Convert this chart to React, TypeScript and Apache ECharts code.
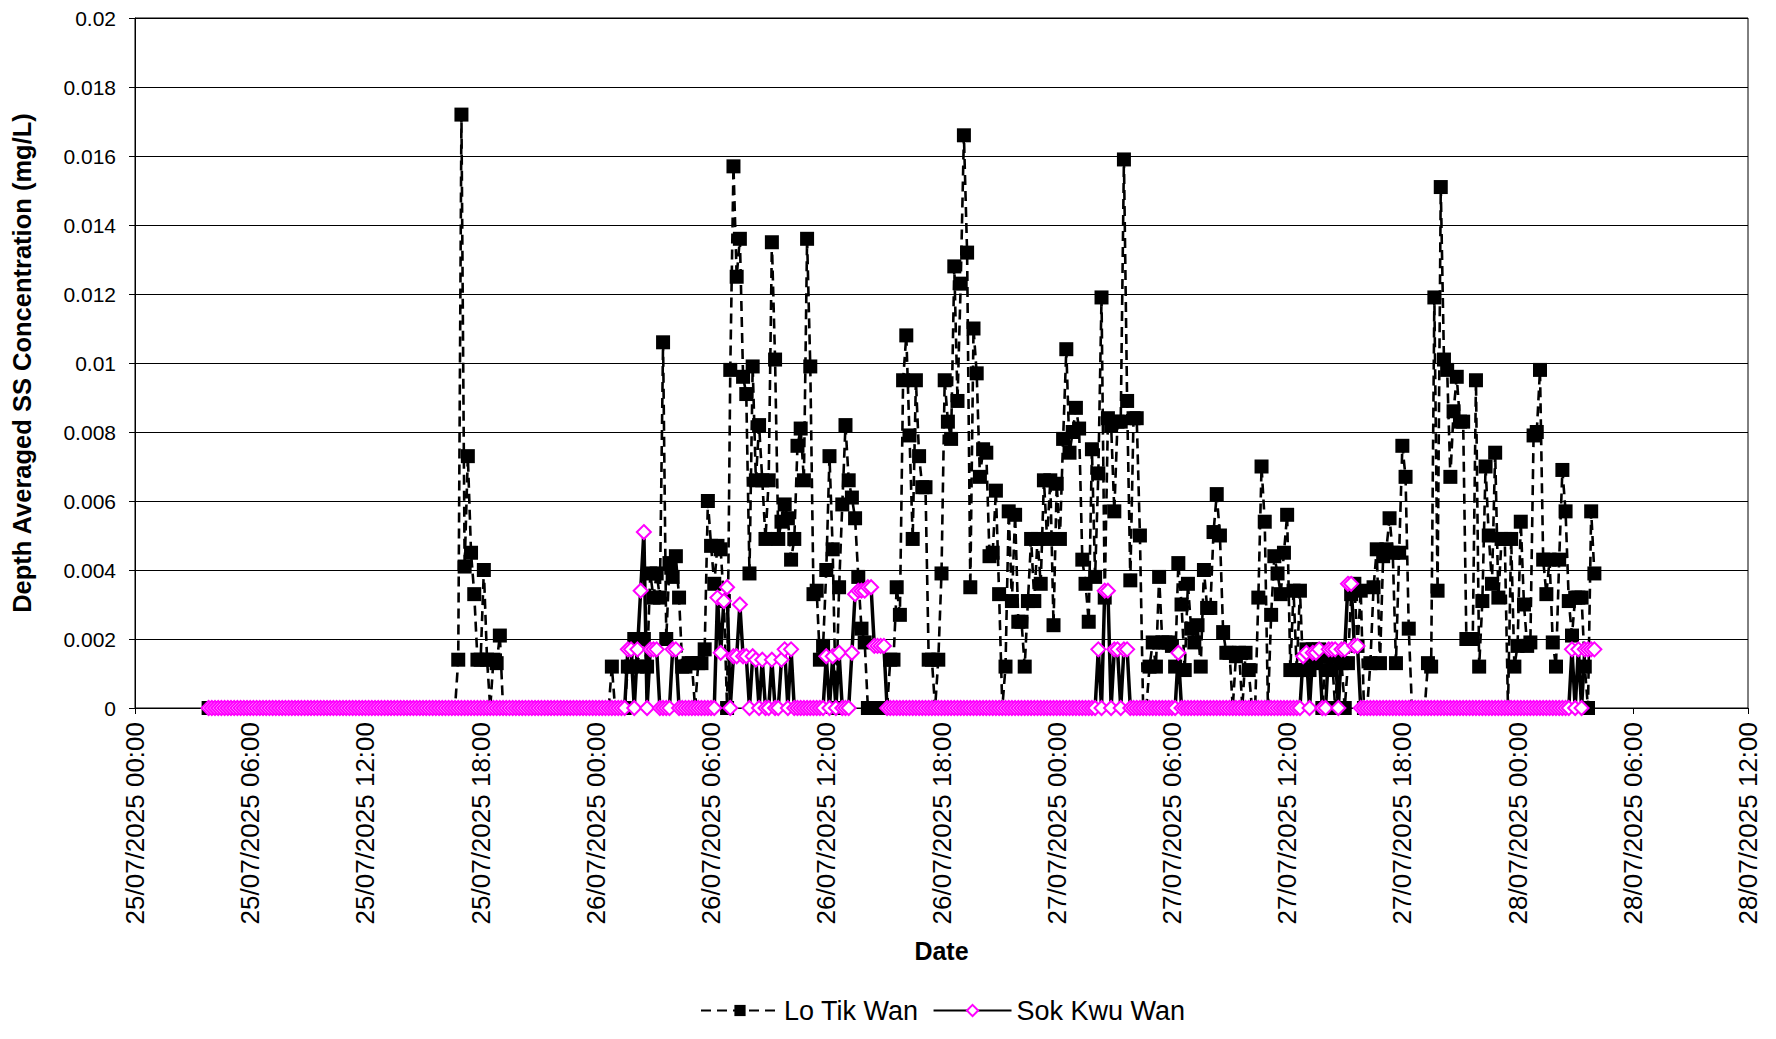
import React, { useEffect, useRef } from "react";
import * as echarts from "echarts";

// Sampling: every 10 minutes starting 25/07/2025 03:50 (hours since 25/07/2025 00:00)
const START_HOURS = 3 + 50 / 60;
const STEP_HOURS = 10 / 60;

const xTickLabels = [
  "25/07/2025 00:00", "25/07/2025 06:00", "25/07/2025 12:00", "25/07/2025 18:00",
  "26/07/2025 00:00", "26/07/2025 06:00", "26/07/2025 12:00", "26/07/2025 18:00",
  "27/07/2025 00:00", "27/07/2025 06:00", "27/07/2025 12:00", "27/07/2025 18:00",
  "28/07/2025 00:00", "28/07/2025 06:00", "28/07/2025 12:00",
];

// Lo Tik Wan (mg/L)
const loTikWan25 = [
  0, 0, 0, 0, 0, 0, 0, 0, 0, 0, 0, 0,
  0, 0, 0, 0, 0, 0, 0, 0, 0, 0, 0, 0,
  0, 0, 0, 0, 0, 0, 0, 0, 0, 0, 0, 0,
  0, 0, 0, 0, 0, 0, 0, 0, 0, 0, 0, 0,
  0, 0, 0, 0, 0, 0, 0, 0, 0, 0, 0, 0,
  0, 0, 0, 0, 0, 0, 0, 0, 0, 0, 0, 0,
  0, 0, 0, 0, 0, 0,
  0.0014, 0.0172, 0.0041, 0.0073, 0.0045, 0.0033, 0.0014, 0.0014, 0.0040, 0.0014, 0, 0.0014, 0.0013, 0.0021,
  0, 0, 0, 0, 0, 0, 0, 0, 0, 0, 0, 0,
  0, 0, 0, 0, 0, 0, 0, 0, 0, 0, 0, 0,
  0, 0, 0, 0, 0,
];
const loTikWan26 = [
  0, 0, 0, 0, 0, 0.0012, 0, 0, 0, 0,
  0.0012, 0.0012, 0.0020, 0.0012, 0.0020, 0.0020, 0.0012, 0.0039, 0.0032, 0.0039,
  0.0032, 0.0106, 0.0020, 0.0042, 0.0038, 0.0044, 0.0032, 0.0012, 0.0012, 0.0013,
  0.0013, 0, 0.0013, 0.0013, 0.0017, 0.0060, 0.0047, 0.0036, 0.0047, 0.0046,
  0.0031, 0, 0.0098, 0.0157, 0.0125, 0.0136, 0.0096, 0.0091, 0.0039, 0.0099,
  0.0066, 0.0082, 0.0066, 0.0049, 0.0066, 0.0135, 0.0101, 0.0049, 0.0054, 0.0059,
  0.0055, 0.0043, 0.0049, 0.0076, 0.0081, 0.0066, 0.0136, 0.0099, 0.0033, 0.0034,
  0.0014, 0.0018, 0.0040, 0.0073, 0.0046, 0, 0.0035, 0.0059, 0.0082, 0.0066,
  0.0061, 0.0055, 0.0038, 0.0023, 0.0019, 0, 0, 0, 0, 0,
  0, 0, 0.0014, 0.0014, 0.0035, 0.0027, 0.0095, 0.0108, 0.0079, 0.0049,
  0.0095, 0.0073, 0.0064, 0.0064, 0.0014, 0.0014, 0, 0.0014, 0.0039, 0.0095,
  0.0083, 0.0078, 0.0128, 0.0089, 0.0123, 0.0166, 0.0132, 0.0035, 0.0110, 0.0097,
  0.0067, 0.0075, 0.0074, 0.0044, 0.0045, 0.0063, 0.0033, 0, 0.0012, 0.0057,
  0.0031, 0.0056, 0.0025, 0.0025, 0.0012, 0.0031, 0.0049, 0.0031, 0.0049, 0.0036,
  0.0066, 0.0049, 0.0066, 0.0024,
];
const loTikWan27 = [
  0.0065, 0.0049, 0.0078, 0.0104, 0.0074, 0.0080, 0.0087, 0.0081, 0.0043, 0.0036,
  0.0025, 0.0075, 0.0038, 0.0068, 0.0119, 0.0032, 0.0084, 0.0082, 0.0057, 0.0083,
  0.0083, 0.0159, 0.0089, 0.0037, 0.0084, 0.0084, 0.0050, 0, 0, 0.0012,
  0.0019, 0.0012, 0.0038, 0.0019, 0.0019, 0.0019, 0.0018, 0.0012, 0.0042, 0.0030,
  0.0011, 0.0036, 0.0023, 0.0019, 0.0024, 0.0012, 0.0040, 0.0029, 0.0029, 0.0051,
  0.0062, 0.0050, 0.0022, 0.0016, 0.0016, 0, 0.0015, 0.0016, 0, 0.0016,
  0.0011, 0, 0, 0.0032, 0.0070, 0.0054, 0, 0.0027, 0.0044, 0.0039,
  0.0033, 0.0045, 0.0056, 0.0011, 0.0034, 0.0011, 0.0034, 0.0011, 0.0017, 0.0011,
  0.0017, 0.0013, 0.0017, 0, 0.0015, 0.0011, 0.0015, 0, 0.0015, 0.0013,
  0, 0.0013, 0.0033, 0.0036, 0.0018, 0.0034, 0, 0, 0.0013, 0.0035,
  0.0046, 0.0013, 0.0044, 0.0046, 0.0055, 0.0045, 0.0013, 0.0045, 0.0076, 0.0067,
  0.0023, 0, 0, 0, 0, 0, 0.0013, 0.0012, 0.0119, 0.0034,
  0.0151, 0.0101, 0.0098, 0.0067, 0.0086, 0.0096, 0.0083, 0.0083, 0.0020, 0.0020,
  0.0020, 0.0095, 0.0012, 0.0031, 0.0070, 0.0050, 0.0036, 0.0074, 0.0032, 0.0049,
  0.0049, 0, 0.0049, 0.0012,
];
const loTikWan28 = [
  0.0018, 0.0054, 0.0030, 0.0018, 0.0019, 0.0079, 0.0080, 0.0098, 0.0043, 0.0033,
  0.0043, 0.0019, 0.0012, 0.0043, 0.0069, 0.0057, 0.0031, 0.0021, 0.0032, 0.0032,
  0.0032, 0.0012, 0, 0.0057, 0.0039,
];

// Sok Kwu Wan (mg/L)
const sokKwuWan25 = [
  0, 0, 0, 0, 0, 0, 0, 0, 0, 0, 0, 0,
  0, 0, 0, 0, 0, 0, 0, 0, 0, 0, 0, 0,
  0, 0, 0, 0, 0, 0, 0, 0, 0, 0, 0, 0,
  0, 0, 0, 0, 0, 0, 0, 0, 0, 0, 0, 0,
  0, 0, 0, 0, 0, 0, 0, 0, 0, 0, 0, 0,
  0, 0, 0, 0, 0, 0, 0, 0, 0, 0, 0, 0,
  0, 0, 0, 0, 0, 0, 0, 0, 0, 0, 0, 0,
  0, 0, 0, 0, 0, 0, 0, 0, 0, 0, 0, 0,
  0, 0, 0, 0, 0, 0, 0, 0, 0, 0, 0, 0,
  0, 0, 0, 0, 0, 0, 0, 0, 0, 0, 0, 0,
  0,
];
const sokKwuWan26 = [
  0, 0, 0, 0, 0, 0, 0, 0, 0, 0,
  0.0017, 0.0017, 0, 0.0017, 0.0034, 0.0051, 0, 0.0017, 0.0017, 0.0017,
  0, 0, 0, 0, 0.0017, 0.0017,
  0, 0, 0, 0, 0, 0, 0, 0, 0, 0, 0, 0,
  0.0032, 0.0016, 0.0031, 0.0035, 0, 0.0015, 0.0015, 0.0030, 0.0015, 0.0015,
  0, 0.0015, 0.0014, 0, 0.0014, 0, 0, 0.0014, 0, 0,
  0.0014, 0.0017, 0, 0.0017,
  0, 0, 0, 0, 0, 0, 0, 0, 0, 0,
  0.0015, 0, 0.0015, 0, 0.0016, 0, 0, 0, 0.0016, 0.0033,
  0.0034, 0.0034, 0.0034, 0.0035, 0.0035, 0.0018, 0.0018, 0.0018, 0.0018,
  0, 0, 0, 0, 0, 0, 0, 0, 0, 0,
  0, 0, 0, 0, 0, 0, 0, 0, 0, 0,
  0, 0, 0, 0, 0, 0, 0, 0, 0, 0,
  0, 0, 0, 0, 0, 0, 0, 0, 0, 0,
  0, 0, 0, 0, 0, 0, 0, 0, 0, 0,
  0, 0, 0,
];
const sokKwuWan27 = [
  0, 0, 0, 0, 0, 0, 0, 0, 0, 0, 0, 0, 0,
  0.0017, 0, 0.0034, 0.0034, 0, 0.0017, 0.0017, 0, 0.0017, 0.0017,
  0, 0, 0, 0, 0, 0, 0, 0, 0, 0, 0, 0, 0, 0, 0,
  0.0016,
  0, 0, 0, 0, 0, 0, 0, 0, 0, 0,
  0, 0, 0, 0, 0, 0, 0, 0, 0, 0,
  0, 0, 0, 0, 0, 0, 0, 0, 0, 0,
  0, 0, 0, 0, 0, 0, 0, 0,
  0.0015, 0.0016, 0, 0.0016, 0.0016, 0.0017, 0, 0, 0.0017, 0.0017,
  0.0017, 0, 0.0017, 0.0017, 0.0036, 0.0036, 0.0018, 0.0018,
  0, 0, 0, 0, 0, 0, 0, 0, 0, 0,
  0, 0, 0, 0, 0, 0, 0, 0, 0, 0,
  0, 0, 0, 0, 0, 0, 0, 0, 0, 0,
  0, 0, 0, 0, 0, 0, 0, 0, 0, 0,
  0, 0, 0, 0, 0, 0, 0, 0, 0,
];
const sokKwuWan28 = [
  0, 0, 0, 0, 0, 0, 0, 0, 0, 0, 0, 0, 0, 0, 0, 0, 0,
  0.0017, 0, 0.0017, 0, 0.0017, 0.0017, 0.0017, 0.0017,
];

const loTikWan = [...loTikWan25, ...loTikWan26, ...loTikWan27, ...loTikWan28];
const sokKwuWan = [...sokKwuWan25, ...sokKwuWan26, ...sokKwuWan27, ...sokKwuWan28];

const toPairs = (vals: number[]) => vals.map((v, i) => [START_HOURS + i * STEP_HOURS, v]);

const FONT = "'Liberation Sans', Arial, sans-serif";

export default function App() {
  const ref = useRef<HTMLDivElement>(null);
  useEffect(() => {
    if (!ref.current) return;
    const chart = echarts.init(ref.current, undefined, { renderer: "svg" });
    chart.setOption({
      animation: false,
      backgroundColor: "#ffffff",
      textStyle: { fontFamily: FONT, color: "#000" },
      grid: {
        left: 135, top: 18, right: 28, bottom: 331,
        show: true, borderColor: "#000", borderWidth: 1, backgroundColor: "transparent",
        containLabel: false,
      },
      xAxis: {
        type: "value", min: 0, max: 84, interval: 6,
        name: "Date", nameLocation: "middle", nameGap: 230,
        nameTextStyle: { fontFamily: FONT, fontWeight: "bold", fontSize: 25, color: "#000" },
        axisLine: { show: true, onZero: false, lineStyle: { color: "#000", width: 1 } },
        axisTick: { show: true, length: 6, lineStyle: { color: "#000" } },
        axisLabel: {
          rotate: 90, fontSize: 26, color: "#000", margin: 14, fontFamily: FONT,
          formatter: (v: number) => xTickLabels[Math.round(v / 6)] ?? "",
        },
        splitLine: { show: false },
      },
      yAxis: {
        type: "value", min: 0, max: 0.02, interval: 0.002,
        name: "Depth Averaged SS Concentration (mg/L)", nameLocation: "middle", nameGap: 100,
        nameTextStyle: { fontFamily: FONT, fontWeight: "bold", fontSize: 25.5, color: "#000" },
        axisLine: { show: true, lineStyle: { color: "#000", width: 1 } },
        axisTick: { show: true, length: 6, lineStyle: { color: "#000" } },
        axisLabel: { fontSize: 21, color: "#000", margin: 19, fontFamily: FONT },
        splitLine: { show: true, lineStyle: { color: "#000", width: 1 } },
      },
      legend: {
        left: 695, bottom: 10, itemWidth: 78, itemHeight: 14, itemGap: 14,
        textStyle: { fontSize: 27, color: "#000", fontFamily: FONT },
        data: ["Lo Tik Wan", "Sok Kwu Wan"],
      },
      series: [
        {
          name: "Lo Tik Wan", type: "line", data: toPairs(loTikWan),
          symbol: "rect", symbolSize: 14, showAllSymbol: true, silent: true,
          lineStyle: { color: "#000", width: 2.6, type: [10, 6] },
          itemStyle: { color: "#000" },
        },
        {
          name: "Sok Kwu Wan", type: "line", data: toPairs(sokKwuWan),
          symbol: "diamond", symbolSize: 14, showAllSymbol: true, silent: true,
          lineStyle: { color: "#000", width: 3.5 },
          itemStyle: { color: "#ffffff", borderColor: "#ff00ff", borderWidth: 2 },
        },
      ],
    });
    return () => chart.dispose();
  }, []);
  return (
    <div
      ref={ref}
      style={{ position: "absolute", left: 0, top: 0, width: 1776, height: 1039, background: "#fff" }}
    />
  );
}
